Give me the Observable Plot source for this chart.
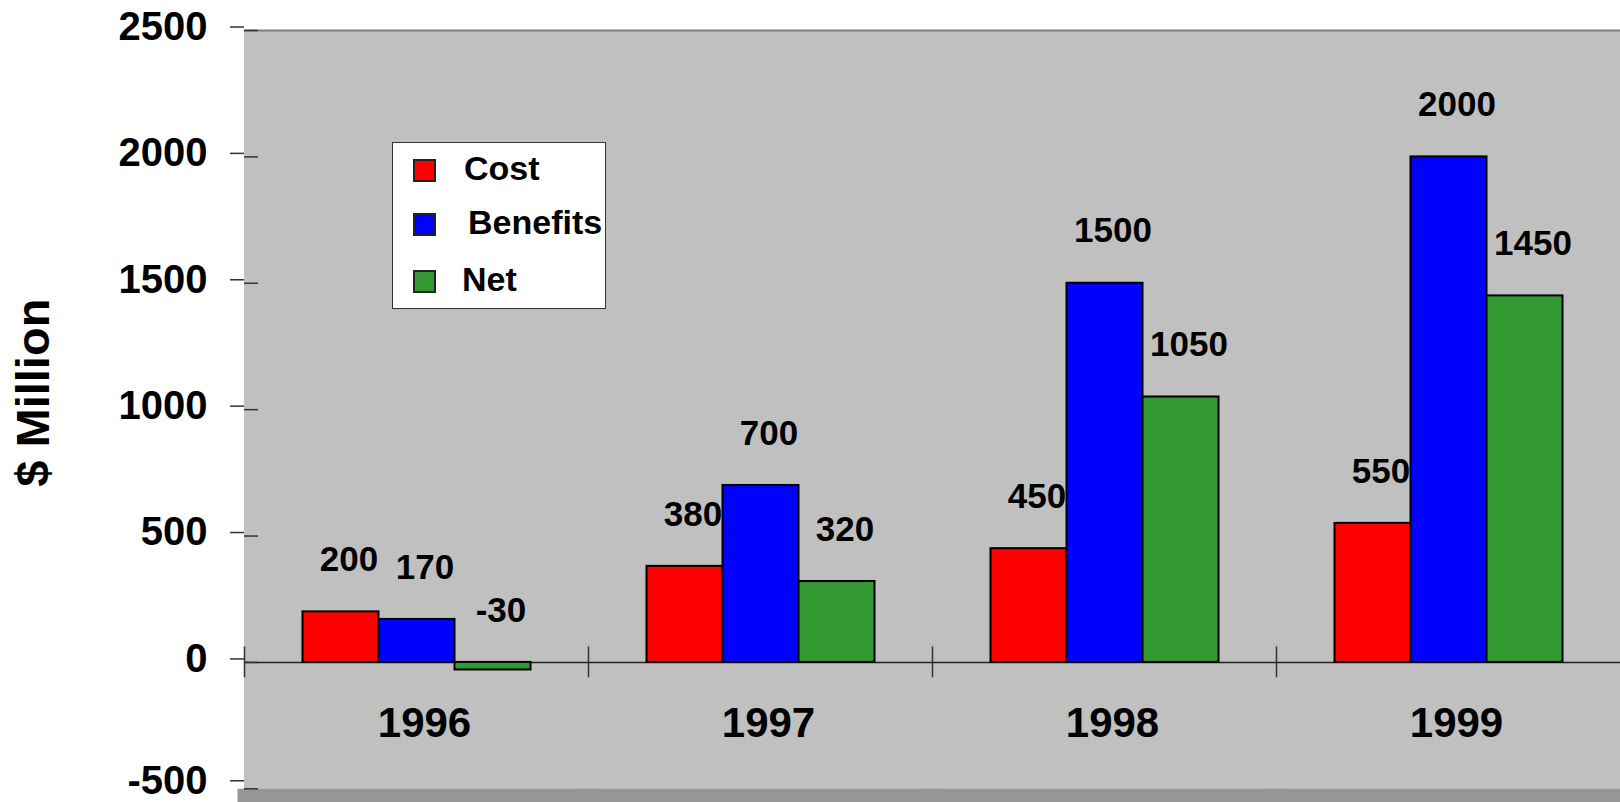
<!DOCTYPE html>
<html>
<head>
<meta charset="utf-8">
<script src="https://cdn.jsdelivr.net/npm/d3@7"></script>
<script src="https://cdn.jsdelivr.net/npm/@observablehq/plot@0.6"></script>
<style>
  html, body { margin: 0; padding: 0; background: #ffffff; }
  #wrap { position: relative; width: 1620px; height: 802px; font-family: "Liberation Sans", Arial, sans-serif; }
  #legend { position: absolute; left: 392px; top: 142px; width: 214px; height: 167px; background: #ffffff; border: 1.5px solid #333; box-sizing: border-box; }
  .item { position: absolute; left: 20px; height: 23px; display: flex; align-items: center; }
  .sw { width: 23px; height: 23px; box-sizing: border-box; border: 2px solid #222; }
  .lab { position: relative; left: 27px; top: -2px; font-weight: bold; font-size: 34px; color: #000; white-space: nowrap; }
</style>
</head>
<body>
<div id="wrap"></div>
<script>
const years = ["1996", "1997", "1998", "1999"];
const series = ["Cost", "Benefits", "Net"];
const seriesColors = ["#ff0000", "#0000ff", "#339933"];
const cost = [200, 380, 450, 550];
const benefits = [170, 700, 1500, 2000];
const net = [-30, 320, 1050, 1450];
const yTicks = [-500, 0, 500, 1000, 1500, 2000, 2500];
const yLabel = "$ Million";

const valuesBySeries = {Cost: cost, Benefits: benefits, Net: net};
const rows = years.flatMap((yr, i) => series.map(s => ({year: yr, series: s, value: valuesBySeries[s][i]})));
const lowestTick = [yTicks[0]];
const upperTicks = yTicks.slice(1);

const chart = Plot.plot({
  width: 1620,
  height: 802,
  marginLeft: 243.5,
  marginRight: 0,
  marginTop: 30,
  marginBottom: 13.7,
  style: {fontFamily: "'Liberation Sans', Arial, sans-serif", background: "transparent", overflow: "visible"},
  fx: {domain: years, padding: 0, axis: null},
  x: {domain: series, paddingInner: 0, paddingOuter: 0.75, axis: null},
  y: {domain: [-500, 2500], axis: null},
  color: {domain: series, range: seriesColors},
  marks: [
    Plot.frame({fill: "#c0c0c0", stroke: "#c0c0c0", strokeWidth: 1}),
    Plot.frame({anchor: "bottom", stroke: "#969696", strokeWidth: 14, insetBottom: -7}),
    Plot.ruleY([2500], {stroke: "#808080", strokeWidth: 2}),
    Plot.frame({anchor: "left", stroke: "#333", strokeWidth: 1.5, insetTop: 616.7, insetBottom: 112.3}),
    Plot.ruleY([0], {stroke: "#222", strokeWidth: 1.5}),
    Plot.barY(rows, {fx: "year", x: "series", y: "value", fill: "series", stroke: "#000", strokeWidth: 2}),
    Plot.text(rows, {fx: "year", x: "series", y: d => Math.max(0, d.value), text: d => String(d.value),
      dy: -52, dx: 8, fontSize: 35, fontWeight: "bold", fill: "#000"}),
    Plot.text(years, {fx: d => d, text: d => d, frameAnchor: "bottom", dy: -51.5, dx: 8,
      fontSize: 42, fontWeight: "bold", fill: "#000"}),
    Plot.axisY({ticks: upperTicks, tickSize: 14, tickPadding: 23, tickFormat: d => String(d), fontSize: 40, fontWeight: "bold",
      label: null, line: true, stroke: "#333", strokeWidth: 1.5, color: "#000", dy: -3.5}),
    Plot.axisY({ticks: lowestTick, tickSize: 14, tickPadding: 23, tickFormat: d => String(d), fontSize: 40, fontWeight: "bold",
      label: null, stroke: "#333", strokeWidth: 1.5, color: "#000", dy: -8}),
    Plot.axisY({ticks: yTicks, tickSize: -14, tickFormat: () => "", label: null, stroke: "#333", strokeWidth: 1.5}),
    Plot.text([yLabel], {fx: ["1996"], text: d => d, frameAnchor: "left", textAnchor: "middle", rotate: -90,
      dx: -210.5, dy: -17, fontSize: 47, fontWeight: "bold", fill: "#000"})
  ]
});

const wrap = document.getElementById("wrap");
wrap.appendChild(chart);

// legend overlay
const legend = document.createElement("div");
legend.id = "legend";
const tops = [16, 70, 127];
const labelLefts = [28, 32, 26];
series.forEach((s, i) => {
  const item = document.createElement("div");
  item.className = "item";
  item.style.top = tops[i] + "px";
  const sw = document.createElement("div");
  sw.className = "sw";
  sw.style.background = seriesColors[i];
  const lab = document.createElement("span");
  lab.className = "lab";
  lab.textContent = s;
  lab.style.left = labelLefts[i] + "px";
  item.appendChild(sw);
  item.appendChild(lab);
  legend.appendChild(item);
});
wrap.appendChild(legend);
</script>
</body>
</html>
